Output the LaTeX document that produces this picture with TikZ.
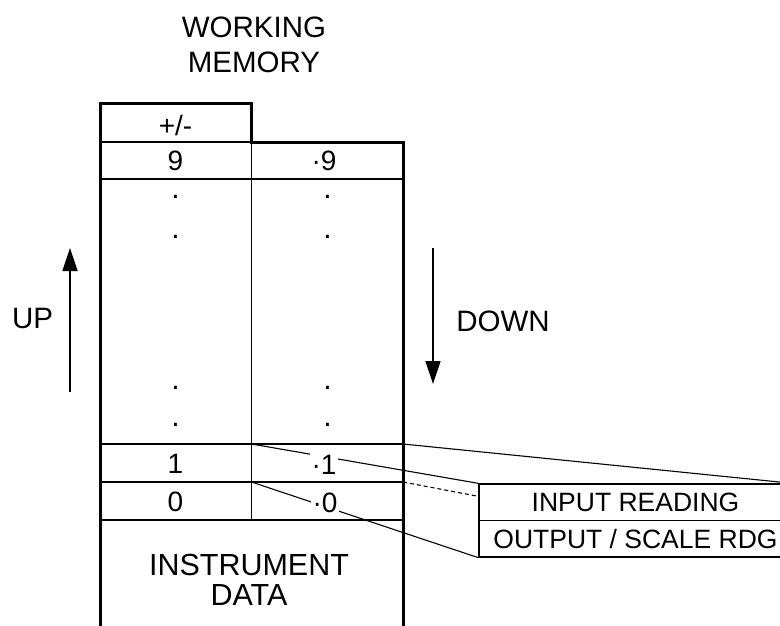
\documentclass[tikz,border=0pt]{standalone}
\usepackage{fontspec}
\setmainfont{Liberation Sans}
\usetikzlibrary{arrows.meta,calc,backgrounds}

\begin{document}
\begin{tikzpicture}[x=1pt, y=-1pt, >={Triangle[length=23pt,width=15pt]},
  frame/.style={line width=3pt},
  rule/.style={line width=1.3pt},
  link/.style={line width=1.1pt},
  hidden/.style={line width=1.1pt, dash pattern=on 4pt off 3pt},
  arrowln/.style={->, line width=1.4pt},
  bigtxt/.style={font=\fontsize{29.5}{35}\selectfont, align=center, inner sep=0pt},
  celltxt/.style={font=\fontsize{28}{32}\selectfont, inner sep=1pt},
  fractxt/.style={font=\fontsize{28}{32}\selectfont, inner sep=2pt, fill=white},
  dotmark/.style={font=\fontsize{30}{32}\selectfont, inner sep=0pt},
  slot/.style={draw, line width=1.3pt, font=\fontsize{26.5}{30}\selectfont, minimum width=313pt, minimum height=36.5pt, inner sep=0pt, text height=19pt, text depth=0pt}]
\useasboundingbox (0,0) rectangle (780,626);

\node[bigtxt] (wmem) at (254,45) {WORKING\\MEMORY};

\draw[frame] (100,632) -- (100,104) -- (251.5,104) -- (251.5,142) -- (403,142) -- (403,632);
\draw[rule] (100,142) -- (251.5,142);
\foreach \y in {179,444,482,520}
  \draw[rule] (100,\y) -- (403,\y);
\draw[rule] (251.5,142) -- (251.5,520);

\coordinate (mid1) at (251.5,444);
\coordinate (rim1) at (403,444);
\coordinate (mid0) at (251.5,482);
\coordinate (rim0) at (403,482);

\node[celltxt] (sign) at (175.5,125) {+/-};
\node[celltxt] (int9) at (175.5,161) {9};
\node[celltxt] (frac9) at (324,161) {·9};
\foreach \y in {197,237,388,425} {
  \node[dotmark] (dotl\y) at (175.5,\y) {.};
  \node[dotmark] (dotr\y) at (327.5,\y) {.};
}
\node[celltxt] (int1) at (175.5,463.5) {1};
\node[fractxt] (frac1) at (324,465) {·1};
\node[celltxt] (int0) at (175.5,501.5) {0};
\node[fractxt] (frac0) at (325,502.5) {·0};

\node[bigtxt, font=\fontsize{30.5}{30}\selectfont] (idata) at (249,580) {INSTRUMENT\\DATA};

\node[bigtxt] (up) at (32.5,318) {UP};
\coordinate (uptail) at (70,392);
\coordinate (uphead) at (70,248);
\draw[arrowln] (uptail) -- (uphead);

\node[bigtxt] (down) at (503,321) {DOWN};
\coordinate (dntail) at (433,248);
\coordinate (dnhead) at (433,384);
\draw[arrowln] (dntail) -- (dnhead);

\node[slot] (inrd) at (635.5,502.25) {INPUT READING};
\node[slot] (outrd) at (635.5,538.75) {OUTPUT / SCALE RDG};
\coordinate (hidn) at ($(inrd.north west)+(0,13)$);

\begin{scope}[on background layer]
\draw[link] (rim1) -- (inrd.north east);
\draw[link] (mid1) -- (inrd.north west);
\draw[link] (mid0) -- (outrd.south west);
\draw[hidden] (rim0) -- (hidn);
\end{scope}
\end{tikzpicture}
\end{document}
